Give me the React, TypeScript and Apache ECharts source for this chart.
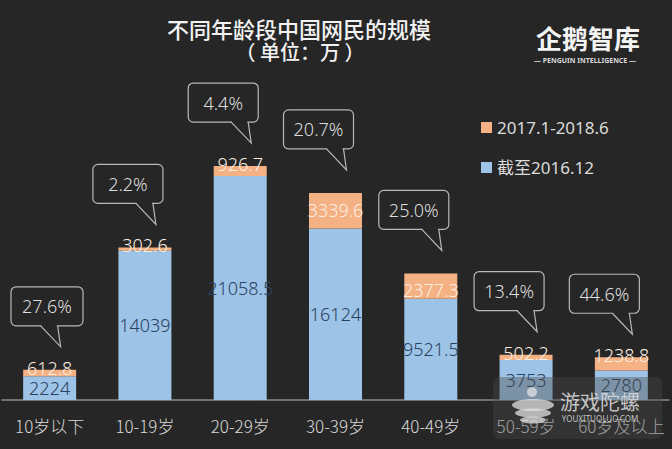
import React, { useEffect, useRef } from "react";
import * as echarts from "echarts";

const categories = ["10岁以下", "10-19岁", "20-29岁", "30-39岁", "40-49岁", "50-59岁", "60岁及以上"];
const baseValues = [2224, 14039, 21058.5, 16124, 9521.5, 3753, 2780];
const newValues = [612.8, 302.6, 926.7, 3339.6, 2377.3, 502.2, 1238.8];
const growthLabels = ["27.6%", "2.2%", "4.4%", "20.7%", "25.0%", "13.4%", "44.6%"];
const seriesNames = ["截至2016.12", "2017.1-2018.6"];

const BG = "#262626";
const BLUE = "#9dc3e6";
const ORANGE = "#f4b183";
const FONT = "'Noto Sans', 'Noto Sans CJK SC', sans-serif";
const CJK = "'Noto Sans CJK SC', 'Noto Sans', sans-serif";

export default function App() {
  const ref = useRef<HTMLDivElement>(null);
  useEffect(() => {
    if (!ref.current) return;
    const chart = echarts.init(ref.current, null, { renderer: "svg" });
    const option: any = {
      animation: false,
      backgroundColor: BG,
      grid: { left: 2, right: 3, top: 134, bottom: 49, containLabel: false },
      legend: {
        data: [seriesNames[1], seriesNames[0]],
        orient: "vertical",
        left: 476,
        top: 114,
        icon: "rect",
        itemWidth: 11,
        itemHeight: 11,
        itemGap: 23,
        textStyle: { color: "#dcdcdc", fontSize: 17, fontFamily: FONT },
      },
      xAxis: {
        type: "category",
        data: categories,
        axisLine: { lineStyle: { color: "#8a8a8a", width: 1.5 } },
        axisTick: { show: false },
        axisLabel: { color: "#d9d9d9", fontSize: 17, margin: 17, fontFamily: CJK, fontWeight: 300, interval: 0 },
      },
      yAxis: {
        type: "value",
        min: 0,
        max: 25000,
        show: false,
        splitLine: { show: false },
      },
      series: [
        {
          name: seriesNames[0],
          type: "bar",
          stack: "total",
          barWidth: 53,
          itemStyle: { color: BLUE },
          label: {
            show: true,
            position: "inside",
            color: "#2a4262",
            fontSize: 18,
            fontFamily: FONT,
            fontWeight: 300,
            formatter: "{c}",
          },
          data: baseValues,
        },
        {
          name: seriesNames[1],
          type: "bar",
          stack: "total",
          barWidth: 53,
          itemStyle: { color: ORANGE },
          label: {
            show: true,
            color: "#fbeee2",
            fontSize: 18,
            fontFamily: FONT,
            fontWeight: 300,
            formatter: "{c}",
          },
          data: newValues.map((v) => ({
            value: v,
            label:
              v > 2000
                ? { position: "insideTop", distance: 8 }
                : { position: "insideTop", distance: 0, offset: [0, -11] },
          })),
        },
      ],
    };
    chart.setOption(option);

    const graphics: any[] = [];
    // Title
    graphics.push({
      type: "text",
      x: 299,
      y: 28,
      style: {
        text: "不同年龄段中国网民的规模",
        fill: "#f2f2f2",
        fontSize: 22,
        fontWeight: 500,
        fontFamily: CJK,
        textAlign: "center",
        verticalAlign: "middle",
      },
    });
    graphics.push({
      type: "text",
      x: 300,
      y: 51,
      style: {
        text: "（ 单位：万 ）",
        fill: "#f2f2f2",
        fontSize: 20,
        fontWeight: 500,
        fontFamily: CJK,
        textAlign: "center",
        verticalAlign: "middle",
      },
    });
    // Logo
    graphics.push({
      type: "text",
      x: 588,
      y: 37,
      style: {
        text: "企鹅智库",
        fill: "#f4f4f4",
        fontSize: 26,
        fontWeight: "bold",
        fontFamily: CJK,
        textAlign: "center",
        verticalAlign: "middle",
      },
    });
    graphics.push({
      type: "text",
      x: 585,
      y: 60,
      style: {
        text: "— PENGUIN INTELLIGENCE —",
        fill: "#d8d8d8",
        fontSize: 7,
        fontWeight: "bold",
        fontFamily: FONT,
        textAlign: "center",
        verticalAlign: "middle",
      },
    });

    // Callouts positioned from the chart's own scales
    categories.forEach((c, i) => {
      const total = baseValues[i] + newValues[i];
      const p = chart.convertToPixel({ seriesIndex: 0 }, [i, total]) as number[];
      if (!p) return;
      const tipX = p[0] + 11;
      const tipY = p[1] - 23;
      const bottom = tipY - 21;
      const top = bottom - 39;
      let right = tipX + 7;
      let left = right - 70;
      if (left < 11) {
        left = 11;
        right = left + 72;
      }
      const b1 = tipX - 20;
      const b2 = tipX - 3;
      graphics.push({
        type: "rect",
        shape: { x: left, y: top, width: right - left, height: bottom - top, r: 5 },
        style: { fill: "transparent", stroke: "#b8b8b8", lineWidth: 1.2 },
      });
      graphics.push({
        type: "line",
        shape: { x1: b1 + 0.8, y1: bottom, x2: b2 - 0.8, y2: bottom },
        style: { stroke: BG, lineWidth: 2.6 },
      });
      graphics.push({
        type: "polyline",
        shape: { points: [[b1, bottom], [tipX, tipY], [b2, bottom]] },
        style: { stroke: "#b8b8b8", fill: null, lineWidth: 1.2 },
      });
      graphics.push({
        type: "text",
        x: (left + right) / 2,
        y: (top + bottom) / 2,
        style: {
          text: growthLabels[i],
          fill: "#dedede",
          fontSize: 18,
          fontWeight: 300,
          fontFamily: FONT,
          textAlign: "center",
          verticalAlign: "middle",
        },
      });
    });

    // Watermark
    graphics.push({
      type: "group",
      z: 100,
      children: [
        {
          type: "rect",
          z: 100,
          shape: { x: 493, y: 377, width: 169, height: 62, r: 6 },
          style: { fill: "rgba(72,72,72,0.4)" },
        },
        {
          type: "ellipse",
          z: 101,
          shape: { cx: 533, cy: 405, rx: 21, ry: 6 },
          style: { fill: "rgba(225,225,225,0.75)" },
        },
        {
          type: "ellipse",
          z: 101,
          shape: { cx: 533, cy: 413, rx: 18, ry: 4.5 },
          style: { fill: "rgba(225,225,225,0.75)" },
        },
        {
          type: "ellipse",
          z: 101,
          shape: { cx: 533, cy: 420, rx: 13, ry: 3.5 },
          style: { fill: "rgba(225,225,225,0.75)" },
        },
        {
          type: "circle",
          z: 101,
          shape: { cx: 532, cy: 392, r: 5 },
          style: { fill: "rgba(225,225,225,0.75)" },
        },
        {
          type: "text",
          z: 101,
          x: 600,
          y: 401,
          style: {
            text: "游戏陀螺",
            fill: "rgba(215,215,215,0.9)",
            fontSize: 20,
            fontFamily: CJK,
            textAlign: "center",
            verticalAlign: "middle",
          },
        },
        {
          type: "text",
          z: 101,
          x: 600,
          y: 418,
          style: {
            text: "YOUXITUOLUO.COM",
            fill: "rgba(215,215,215,0.9)",
            fontSize: 8,
            fontFamily: FONT,
            textAlign: "center",
            verticalAlign: "middle",
          },
        },
      ],
    });

    chart.setOption({ graphic: graphics });
    return () => chart.dispose();
  }, []);
  return (
    <div
      ref={ref}
      style={{ position: "fixed", left: 0, top: 0, width: 672, height: 449 }}
    />
  );
}
